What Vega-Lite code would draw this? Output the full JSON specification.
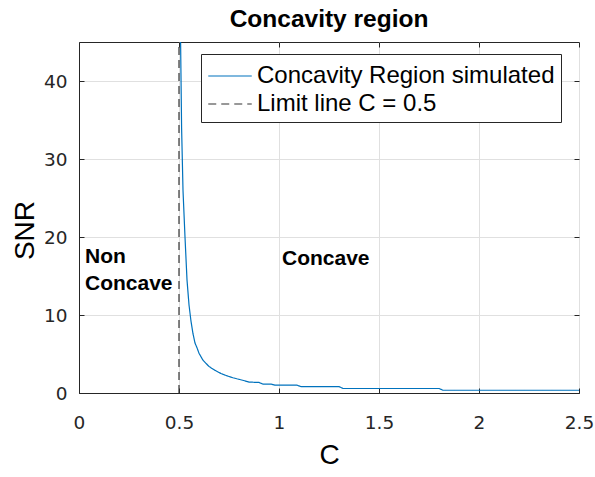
{
  "$schema": "https://vega.github.io/schema/vega-lite/v6.json",
  "width": 500,
  "height": 351,
  "autosize": {"type": "none"},
  "padding": {"left": 79, "top": 42, "right": 16, "bottom": 84},
  "background": "white",
  "config": {
    "font": "Liberation Sans",
    "view": {"stroke": "#262626", "strokeWidth": 1},
    "axis": {
      "gridColor": "#e0e0e0",
      "gridWidth": 1,
      "domainColor": "#262626",
      "tickColor": "#262626",
      "labelColor": "#262626",
      "titleColor": "#000000",
      "labelFont": "DejaVu Sans",
      "labelFontSize": 18.5,
      "titleFont": "Liberation Sans",
      "titleFontSize": 28,
      "titleFontWeight": "normal"
    }
  },
  "title": {
    "text": "Concavity region",
    "fontSize": 24.5,
    "fontWeight": "bold",
    "font": "Liberation Sans",
    "color": "#000000",
    "anchor": "middle",
    "offset": 9
  },
  "resolve": {"axis": {"x": "independent", "y": "independent"}},
  "datasets": {
    "curve": [
      {"C": 0.508, "SNR": 45, "series": "Concavity Region simulated"},
      {"C": 0.513, "SNR": 34, "series": "Concavity Region simulated"},
      {"C": 0.52, "SNR": 26, "series": "Concavity Region simulated"},
      {"C": 0.53, "SNR": 20, "series": "Concavity Region simulated"},
      {"C": 0.54, "SNR": 14.5, "series": "Concavity Region simulated"},
      {"C": 0.55, "SNR": 11.3, "series": "Concavity Region simulated"},
      {"C": 0.56, "SNR": 9.2, "series": "Concavity Region simulated"},
      {"C": 0.57, "SNR": 7.6, "series": "Concavity Region simulated"},
      {"C": 0.58, "SNR": 6.4, "series": "Concavity Region simulated"},
      {"C": 0.59, "SNR": 5.8, "series": "Concavity Region simulated"},
      {"C": 0.6, "SNR": 5.1, "series": "Concavity Region simulated"},
      {"C": 0.62, "SNR": 4.2, "series": "Concavity Region simulated"},
      {"C": 0.65, "SNR": 3.4, "series": "Concavity Region simulated"},
      {"C": 0.68, "SNR": 2.9, "series": "Concavity Region simulated"},
      {"C": 0.71, "SNR": 2.5, "series": "Concavity Region simulated"},
      {"C": 0.74, "SNR": 2.2, "series": "Concavity Region simulated"},
      {"C": 0.77, "SNR": 1.95, "series": "Concavity Region simulated"},
      {"C": 0.8, "SNR": 1.75, "series": "Concavity Region simulated"},
      {"C": 0.83, "SNR": 1.55, "series": "Concavity Region simulated"},
      {"C": 0.85, "SNR": 1.4, "series": "Concavity Region simulated"},
      {"C": 0.9, "SNR": 1.35, "series": "Concavity Region simulated"},
      {"C": 0.92, "SNR": 1.15, "series": "Concavity Region simulated"},
      {"C": 0.96, "SNR": 1.15, "series": "Concavity Region simulated"},
      {"C": 0.98, "SNR": 1.0, "series": "Concavity Region simulated"},
      {"C": 1.09, "SNR": 1.0, "series": "Concavity Region simulated"},
      {"C": 1.11, "SNR": 0.82, "series": "Concavity Region simulated"},
      {"C": 1.3, "SNR": 0.82, "series": "Concavity Region simulated"},
      {"C": 1.32, "SNR": 0.58, "series": "Concavity Region simulated"},
      {"C": 1.8, "SNR": 0.58, "series": "Concavity Region simulated"},
      {"C": 1.82, "SNR": 0.35, "series": "Concavity Region simulated"},
      {"C": 2.5, "SNR": 0.35, "series": "Concavity Region simulated"},
      {"C": 0.5, "SNR": 0, "series": "Limit line C = 0.5"},
      {"C": 0.5, "SNR": 45, "series": "Limit line C = 0.5"}
    ],
    "notes": [
      {"C": 0.03, "SNR": 17.5, "label": "Non"},
      {"C": 0.03, "SNR": 14.0, "label": "Concave"},
      {"C": 1.015, "SNR": 17.2, "label": "Concave"}
    ]
  },
  "layer": [
    {
      "data": {"name": "curve"},
      "mark": {"type": "line", "strokeWidth": 1.2, "clip": true},
      "encoding": {
        "x": {
          "field": "C", "type": "quantitative",
          "scale": {"domain": [0, 2.5], "nice": false, "zero": false},
          "axis": {
            "title": "C", "values": [0, 0.5, 1, 1.5, 2, 2.5], "format": ".1~f",
            "tickSize": -5, "labelPadding": 25, "titlePadding": 10,
            "labelFlush": false, "labelOverlap": false
          }
        },
        "y": {
          "field": "SNR", "type": "quantitative",
          "scale": {"domain": [0, 45], "nice": false},
          "axis": {
            "title": "SNR", "values": [0, 10, 20, 30, 40], "format": "d",
            "tickSize": -5, "labelPadding": 17,
            "titleX": -46, "titleY": 188, "titleBaseline": "alphabetic",
            "titleAlign": "center", "titleAngle": -90,
            "labelFlush": false
          }
        },
        "color": {
          "field": "series", "type": "nominal",
          "scale": {
            "domain": ["Concavity Region simulated", "Limit line C = 0.5"],
            "range": ["#0072BD", "#333333"]
          },
          "legend": {
            "title": null,
            "orient": "none",
            "legendX": 122,
            "legendY": 12,
            "symbolType": "M-1.45,0H1.45",
            "symbolSize": 900,
            "symbolStrokeWidth": 1.2,
            "symbolOffset": 7,
            "labelFontSize": 24,
            "labelFont": "Liberation Sans",
            "labelColor": "#000000",
            "labelLimit": 400,
            "fillColor": "white",
            "strokeColor": "#262626",
            "padding": 6,
            "rowPadding": -2,
            "labelOffset": 11
          }
        },
        "strokeDash": {
          "field": "series", "type": "nominal",
          "scale": {
            "domain": ["Concavity Region simulated", "Limit line C = 0.5"],
            "range": [[1, 0], [8, 5]]
          },
          "legend": null
        },
        "detail": {"field": "series"}
      }
    },
    {
      "data": {"name": "notes"},
      "mark": {
        "type": "text", "align": "left", "baseline": "middle",
        "fontSize": 21, "fontWeight": "bold", "font": "Liberation Sans",
        "color": "#000000"
      },
      "encoding": {
        "x": {
          "field": "C", "type": "quantitative",
          "scale": {"domain": [0, 2.5], "nice": false, "zero": false},
          "axis": {
            "orient": "top", "title": null, "labels": false, "grid": false,
            "domain": false, "values": [0, 0.5, 1, 1.5, 2, 2.5], "tickSize": -5
          }
        },
        "y": {
          "field": "SNR", "type": "quantitative",
          "scale": {"domain": [0, 45], "nice": false},
          "axis": {
            "orient": "right", "title": null, "labels": false, "grid": false,
            "domain": false, "values": [0, 10, 20, 30, 40], "tickSize": -5
          }
        },
        "text": {"field": "label"}
      }
    }
  ]
}
